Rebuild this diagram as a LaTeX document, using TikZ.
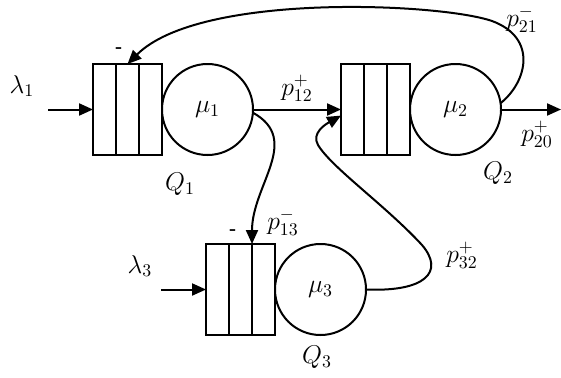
\documentclass[tikz,border=0pt]{standalone}
\usetikzlibrary{arrows.meta,calc}
\begin{document}
\begin{tikzpicture}[x=0.56pt,y=-0.56pt, line width=1.12pt,
  >={Triangle[length=7.8pt,width=6.7pt]},
  every node/.style={font=\Large},
  queuebox/.style={draw, rectangle, minimum width=38.64pt, minimum height=50.96pt, inner sep=0pt, outer sep=0pt},
  server/.style={draw, circle, minimum size=50.96pt, inner sep=0pt, outer sep=0pt},
  lbl/.style={inner sep=0pt},
  sgn/.style={inner sep=0pt, font=\normalsize\bfseries}]
\useasboundingbox (0,0) rectangle (561,377);
% queues and servers
\node[queuebox] (q1) at (127.5,109.5) {};
\node[server]   (c1) at (207.5,109.5) {$\mu_1$};
\node[queuebox] (q2) at (375.5,109.5) {};
\node[server]   (c2) at (455.5,109.5) {$\mu_2$};
\node[queuebox] (q3) at (240.5,289.5) {};
\node[server]   (c3) at (320.5,289.5) {$\mu_3$};
\foreach \q in {q1,q2,q3}{
  \draw ($(\q.north west)!1/3!(\q.north east)$) -- ($(\q.south west)!1/3!(\q.south east)$);
  \draw ($(\q.north west)!2/3!(\q.north east)$) -- ($(\q.south west)!2/3!(\q.south east)$);
}
\coordinate (q3b) at ($(q3.north west)!2/3!(q3.north east)$);
% external arrivals and departure
\coordinate (in1) at (48,109.5);
\coordinate (in3) at (161,289.5);
\coordinate (out2) at (561,109.5);
\draw[->] (in1) -- (q1.west);
\draw[->] (in3) -- (q3.west);
\draw[->] (c2.east) -- (out2);
% routing
\draw[->] (c1.east) -- (q2.west);
\draw[->] (c1.-4) .. controls (302,140) and (252,185) .. (q3b);
\draw[->] (c3.east) .. controls (425,292) and (445,272) .. (422,245)
   .. controls (385,205) and (332,168) .. (318,145)
   .. controls (311,133) and (326,124) .. (q2.190);
\draw[->] (c2.8) .. controls (527,82) and (538,38) .. (492,21)
   .. controls (440,3) and (200,-8) .. (q1.north);
% labels
\node[lbl] (l1) at (22,86) {$\lambda_1$};
\node[lbl] (l3) at (140,266) {$\lambda_3$};
\node[lbl] (lq1) at (180,184) {$Q_1$};
\node[lbl] (lq2) at (498,173) {$Q_2$};
\node[lbl] (lq3) at (317,357) {$Q_3$};
\node[lbl] (p12) at (297,88) {$p_{12}^{+}$};
\node[lbl] (p21) at (522,19) {$p_{21}^{-}$};
\node[lbl] (p20) at (537,134) {$p_{20}^{+}$};
\node[lbl] (p13) at (283,222) {$p_{13}^{-}$};
\node[lbl] (p32) at (462,255) {$p_{32}^{+}$};
\node[sgn] (m1) at (119,50) {-};
\node[sgn] (m3) at (233,232) {-};
\end{tikzpicture}
\end{document}
